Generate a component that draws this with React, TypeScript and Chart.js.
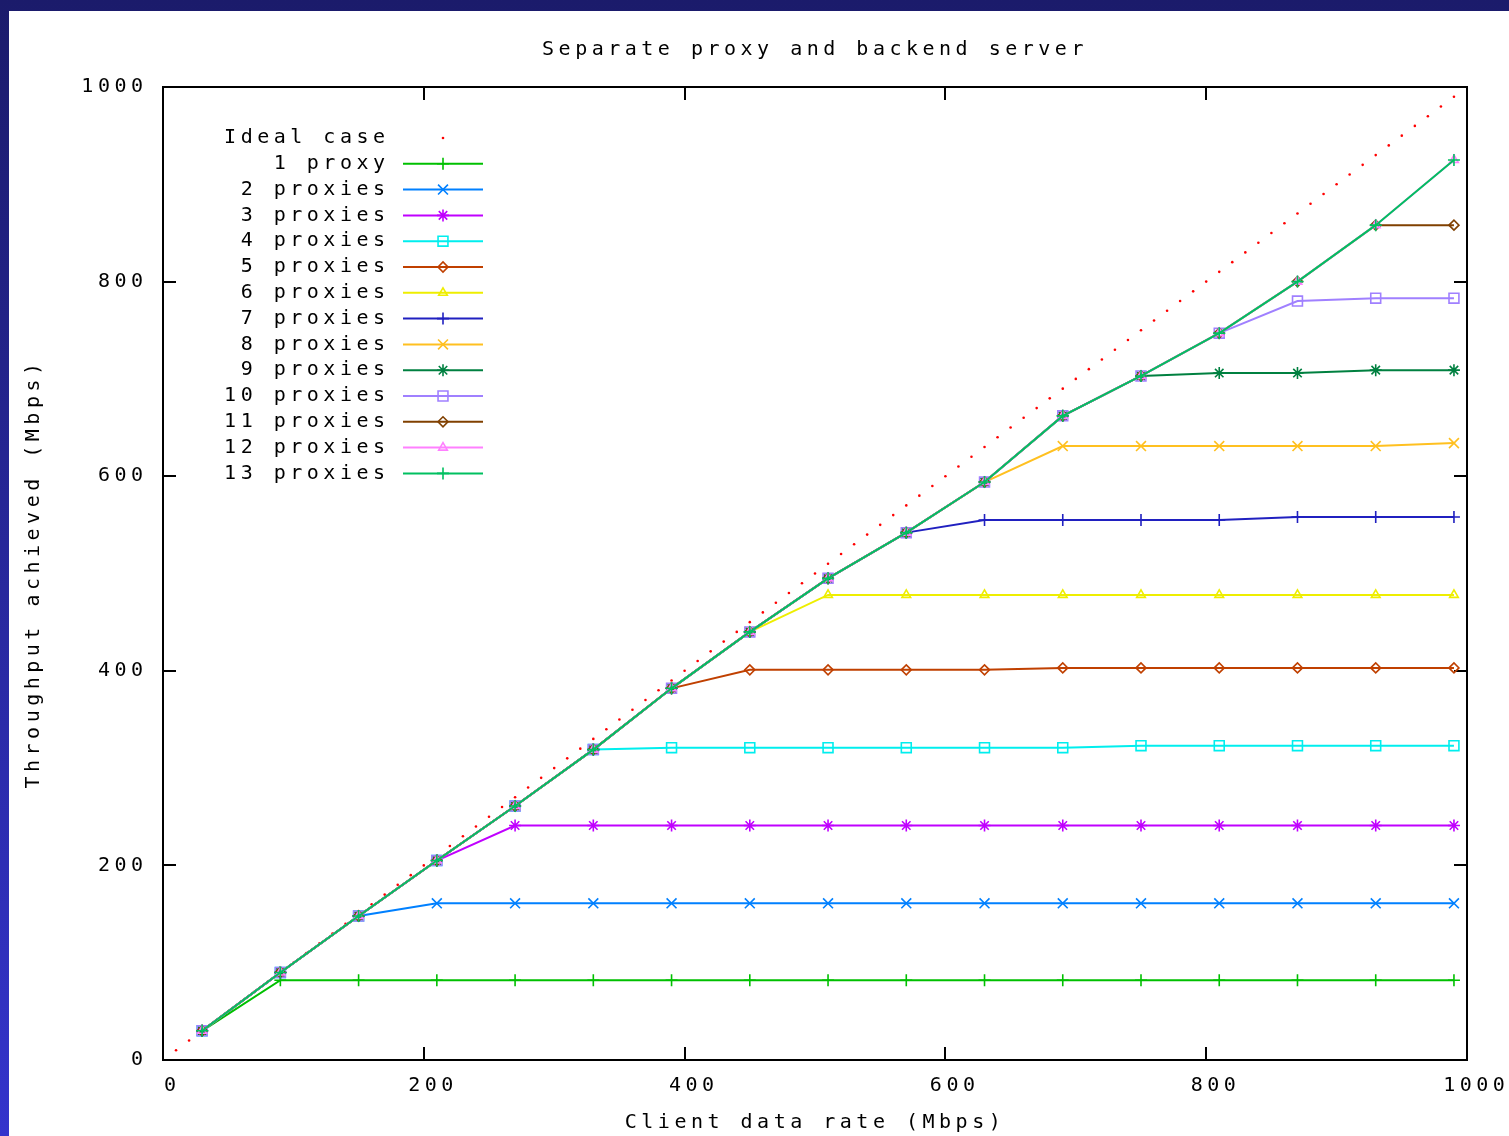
import React, { useEffect, useRef } from "react";
import { Chart, registerables } from "chart.js";
import { drawPoint } from "chart.js/helpers";

Chart.register(...registerables);

// ---------------- data ----------------
const chartTitle = "Separate proxy and backend server";
const xAxisTitle = "Client data rate (Mbps)";
const yAxisTitle = "Throughput achieved (Mbps)";

const axisMin = 0;
const axisMax = 1000;
const axisStep = 200;

const clientRates = [30, 90, 150, 210, 270, 330, 390, 450, 510, 570, 630, 690, 750, 810, 870, 930, 990];

const idealRates = [
  10, 20, 30, 40, 50, 60, 70, 80, 90, 100, 110, 120, 130, 140, 150, 160, 170, 180, 190, 200,
  210, 220, 230, 240, 250, 260, 270, 280, 290, 300, 310, 320, 330, 340, 350, 360, 370, 380, 390, 400,
  410, 420, 430, 440, 450, 460, 470, 480, 490, 500, 510, 520, 530, 540, 550, 560, 570, 580, 590, 600,
  610, 620, 630, 640, 650, 660, 670, 680, 690, 700, 710, 720, 730, 740, 750, 760, 770, 780, 790, 800,
  810, 820, 830, 840, 850, 860, 870, 880, 890, 900, 910, 920, 930, 940, 950, 960, 970, 980, 990,
];
const idealThroughput = [
  10, 20, 30, 40, 50, 60, 70, 80, 90, 100, 110, 120, 130, 140, 150, 160, 170, 180, 190, 200,
  210, 220, 230, 240, 250, 260, 270, 280, 290, 300, 310, 320, 330, 340, 350, 360, 370, 380, 390, 400,
  410, 420, 430, 440, 450, 460, 470, 480, 490, 500, 510, 520, 530, 540, 550, 560, 570, 580, 590, 600,
  610, 620, 630, 640, 650, 660, 670, 680, 690, 700, 710, 720, 730, 740, 750, 760, 770, 780, 790, 800,
  810, 820, 830, 840, 850, 860, 870, 880, 890, 900, 910, 920, 930, 940, 950, 960, 970, 980, 990,
];

const idealLabel = "Ideal case";
const seriesLabels = [
  "1 proxy", "2 proxies", "3 proxies", "4 proxies", "5 proxies", "6 proxies", "7 proxies",
  "8 proxies", "9 proxies", "10 proxies", "11 proxies", "12 proxies", "13 proxies",
];

const proxies1 = [30, 82, 82, 82, 82, 82, 82, 82, 82, 82, 82, 82, 82, 82, 82, 82, 82];
const proxies2 = [30, 90, 148, 161, 161, 161, 161, 161, 161, 161, 161, 161, 161, 161, 161, 161, 161];
const proxies3 = [30, 90, 148, 205, 241, 241, 241, 241, 241, 241, 241, 241, 241, 241, 241, 241, 241];
const proxies4 = [30, 90, 148, 205, 261, 319, 321, 321, 321, 321, 321, 321, 323, 323, 323, 323, 323];
const proxies5 = [30, 90, 148, 205, 261, 319, 382, 401, 401, 401, 401, 403, 403, 403, 403, 403, 403];
const proxies6 = [30, 90, 148, 205, 261, 319, 382, 440, 478, 478, 478, 478, 478, 478, 478, 478, 478];
const proxies7 = [30, 90, 148, 205, 261, 319, 382, 440, 495, 542, 555, 555, 555, 555, 558, 558, 558];
const proxies8 = [30, 90, 148, 205, 261, 319, 382, 440, 495, 542, 594, 631, 631, 631, 631, 631, 634];
const proxies9 = [30, 90, 148, 205, 261, 319, 382, 440, 495, 542, 594, 662, 703, 706, 706, 709, 709];
const proxies10 = [30, 90, 148, 205, 261, 319, 382, 440, 495, 542, 594, 662, 703, 747, 780, 783, 783];
const proxies11 = [30, 90, 148, 205, 261, 319, 382, 440, 495, 542, 594, 662, 703, 747, 800, 858, 858];
const proxies12 = [30, 90, 148, 205, 261, 319, 382, 440, 495, 542, 594, 662, 703, 747, 800, 858, 925];
const proxies13 = [30, 90, 148, 205, 261, 319, 382, 440, 495, 542, 594, 662, 703, 747, 800, 858, 925];

const seriesValues = [
  proxies1, proxies2, proxies3, proxies4, proxies5, proxies6, proxies7,
  proxies8, proxies9, proxies10, proxies11, proxies12, proxies13,
];

// ---------------- styles ----------------
const idealColor = "#ff0000";
const seriesColors = [
  "#00c000", "#0080ff", "#c000ff", "#00eeee", "#c04000", "#eeee00", "#2020c0",
  "#ffc020", "#008040", "#a080ff", "#804000", "#ff80ff", "#00c060",
];
const markerCycle = ["cross", "crossRot", "star", "rect", "rectRot", "triangle"];
const markerRadius: Record<string, number> = {
  cross: 6,
  crossRot: 7,
  star: 6,
  rect: 7,
  rectRot: 5,
  triangle: 5,
};

const FONT_FAMILY = '"DejaVu Sans Mono", "Liberation Mono", monospace';
const FONT_SIZE = 20;
const LETTER_SPACING = 4.5;

// ---------------- plugins ----------------
const spacingPlugin = {
  id: "gnuSpacing",
  beforeUpdate(chart: any) {
    chart.ctx.letterSpacing = LETTER_SPACING + "px";
  },
  beforeDraw(chart: any) {
    chart.ctx.letterSpacing = LETTER_SPACING + "px";
  },
};

const framePlugin = {
  id: "gnuFrame",
  beforeDatasetsDraw(chart: any) {
    const { ctx, chartArea: a, scales } = chart;
    const tickLen = 13;
    ctx.save();
    ctx.strokeStyle = "#000";
    ctx.lineWidth = 2;
    ctx.strokeRect(a.left, a.top, a.right - a.left, a.bottom - a.top);
    ctx.beginPath();
    for (const t of scales.x.ticks) {
      const px = Math.round(scales.x.getPixelForValue(t.value));
      ctx.moveTo(px, a.bottom);
      ctx.lineTo(px, a.bottom - tickLen);
      ctx.moveTo(px, a.top);
      ctx.lineTo(px, a.top + tickLen);
    }
    for (const t of scales.y.ticks) {
      const py = Math.round(scales.y.getPixelForValue(t.value));
      ctx.moveTo(a.left, py);
      ctx.lineTo(a.left + tickLen, py);
      ctx.moveTo(a.right, py);
      ctx.lineTo(a.right - tickLen, py);
    }
    ctx.stroke();
    ctx.restore();
  },
};

const legendPlugin = {
  id: "gnuLegend",
  afterDatasetsDraw(chart: any) {
    const { ctx, chartArea: a } = chart;
    const textRight = a.left + 222 + LETTER_SPACING;
    const x0 = a.left + 240;
    const x1 = a.left + 320;
    const xm = a.left + 280;
    const row0 = a.top + 51;
    const rowStep = 25.8;
    ctx.save();
    ctx.letterSpacing = LETTER_SPACING + "px";
    chart.data.datasets.forEach((ds: any, i: number) => {
      const y = row0 + i * rowStep;
      ctx.font = `${FONT_SIZE}px ${FONT_FAMILY}`;
      ctx.fillStyle = "#000";
      ctx.textAlign = "right";
      ctx.textBaseline = "middle";
      ctx.fillText(ds.label, textRight, y);
      if (ds.showLine !== false) {
        ctx.strokeStyle = ds.borderColor;
        ctx.lineWidth = ds.borderWidth;
        ctx.beginPath();
        ctx.moveTo(x0, y);
        ctx.lineTo(x1, y);
        ctx.stroke();
      }
      ctx.strokeStyle = ds.pointBorderColor;
      ctx.fillStyle = ds.pointBackgroundColor;
      ctx.lineWidth = ds.pointBorderWidth;
      drawPoint(
        ctx,
        {
          pointStyle: ds.pointStyle,
          radius: ds.pointRadius,
          rotation: 0,
          borderWidth: ds.pointBorderWidth,
        } as any,
        xm,
        y
      );
    });
    ctx.restore();
  },
};

const plainTick = (value: any) => String(value);

// ---------------- component ----------------
export default function App() {
  const canvasRef = useRef<HTMLCanvasElement | null>(null);

  useEffect(() => {
    const canvas = canvasRef.current;
    if (!canvas) return;

    const idealDataset = {
      label: idealLabel,
      data: idealRates.map((x, i) => ({ x, y: idealThroughput[i] })),
      showLine: false,
      borderColor: idealColor,
      borderWidth: 0,
      pointStyle: "circle",
      pointRadius: 1.3,
      pointBorderWidth: 0,
      pointBorderColor: idealColor,
      pointBackgroundColor: idealColor,
      order: 20,
    };

    const proxyDatasets = seriesValues.map((vals, i) => {
      const style = markerCycle[i % markerCycle.length];
      return {
        label: seriesLabels[i],
        data: clientRates.map((x, j) => ({ x, y: vals[j] })),
        showLine: true,
        borderColor: seriesColors[i],
        borderWidth: 2,
        tension: 0,
        pointStyle: style,
        pointRadius: markerRadius[style],
        pointBorderWidth: 1.6,
        pointBorderColor: seriesColors[i],
        pointBackgroundColor: "rgba(0,0,0,0)",
        order: seriesValues.length - i,
      };
    });

    const tickFont = { family: FONT_FAMILY, size: FONT_SIZE, lineHeight: 1 };

    const chart = new Chart(canvas, {
      type: "scatter",
      data: { datasets: [idealDataset, ...proxyDatasets] as any },
      options: {
        animation: false,
        responsive: false,
        maintainAspectRatio: false,
        devicePixelRatio: 1,
        events: [],
        layout: { padding: { top: 0, left: 0, right: 42, bottom: 0 } },
        plugins: {
          legend: { display: false },
          tooltip: { enabled: false },
          title: {
            display: true,
            text: chartTitle,
            color: "#000",
            fullSize: false,
            font: { family: FONT_FAMILY, size: FONT_SIZE, lineHeight: 1, weight: "normal" },
            padding: { top: 28.5, bottom: 27.5 },
          },
        },
        scales: {
          x: {
            type: "linear",
            position: "bottom",
            min: axisMin,
            max: axisMax,
            grid: { display: false, drawTicks: false },
            border: { display: false },
            ticks: {
              stepSize: axisStep,
              autoSkip: false,
              maxRotation: 0,
              color: "#000",
              font: tickFont,
              padding: 16,
              labelOffset: 9.25,
              callback: plainTick,
            },
            title: {
              display: true,
              text: xAxisTitle,
              color: "#000",
              font: tickFont,
              padding: { top: 0, bottom: 3.5 },
            },
            afterFit(scale: any) {
              scale.height = 76;
              scale.paddingLeft = 0;
              scale.paddingRight = 0;
            },
          },
          y: {
            type: "linear",
            position: "left",
            min: axisMin,
            max: axisMax,
            grid: { display: false, drawTicks: false },
            border: { display: false },
            ticks: {
              stepSize: axisStep,
              autoSkip: false,
              color: "#000",
              font: tickFont,
              padding: 15.5,
              callback: plainTick,
            },
            title: {
              display: true,
              text: yAxisTitle,
              color: "#000",
              font: tickFont,
              padding: { top: 15, bottom: 0 },
            },
            afterFit(scale: any) {
              scale.width = 154;
              scale.paddingTop = 0;
              scale.paddingBottom = 0;
            },
          },
        },
      } as any,
      plugins: [spacingPlugin, framePlugin, legendPlugin],
    });

    return () => chart.destroy();
  }, []);

  return (
    <div
      style={{
        position: "fixed",
        inset: 0,
        background: "linear-gradient(180deg, #1b1b6b 0%, #3434cc 100%)",
        overflow: "hidden",
      }}
    >
      <canvas
        ref={canvasRef}
        width={1500}
        height={1125}
        style={{
          position: "absolute",
          left: 9,
          top: 11,
          width: 1500,
          height: 1125,
          background: "#ffffff",
          display: "block",
        }}
      />
    </div>
  );
}
